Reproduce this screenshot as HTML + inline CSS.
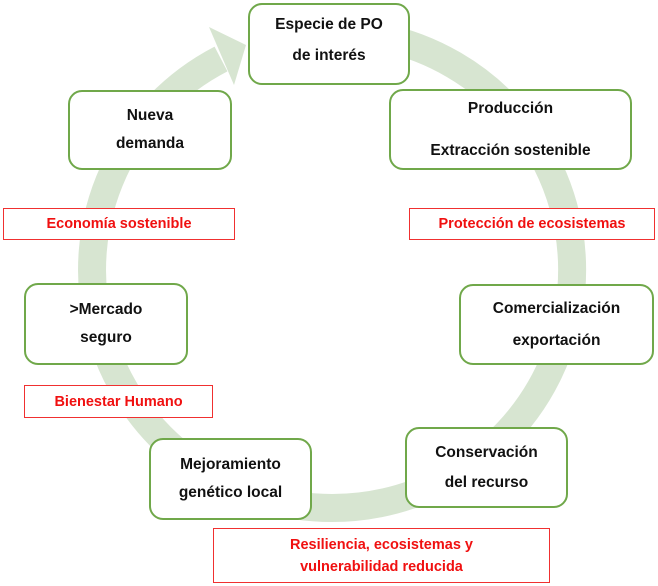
<!DOCTYPE html>
<html><head><meta charset="utf-8"><style>
body{margin:0;width:658px;height:586px;background:#fff;position:relative;overflow:hidden;font-family:"Liberation Sans",Arial,sans-serif;font-weight:bold;}
.n{position:absolute;box-sizing:border-box;border:2.5px solid #70a84a;border-radius:14px;background:#fff;display:flex;flex-direction:column;justify-content:center;align-items:center;text-align:center;font-size:15.5px;color:#111;line-height:28px;}
.r{position:absolute;box-sizing:border-box;border:1.3px solid #f03030;background:#fff;color:#f01010;display:flex;flex-direction:column;justify-content:center;align-items:center;text-align:center;font-size:14.5px;line-height:22px;}
svg{position:absolute;left:0;top:0}
</style></head><body>
<svg width="658" height="586">
<path d="M 373.7 35.6 A 240 238 0 0 1 332 508 A 240 238 0 0 1 221 59" fill="none" stroke="#d7e5d1" stroke-width="28"/>
<polygon points="209,27 246,45 234,85" fill="#d7e5d1"/>
</svg>
<div class="n" style="left:248px;top:3px;width:162px;height:82px;padding-bottom:8px;line-height:31px">Especie de PO<br>de interés</div>
<div class="n" style="left:68px;top:90px;width:164px;height:80px">Nueva<br>demanda</div>
<div class="n" style="left:389px;top:89px;width:243px;height:81px;line-height:42px">Producción<br>Extracción sostenible</div>
<div class="r" style="left:3px;top:208px;width:232px;height:32px">Economía sostenible</div>
<div class="r" style="left:409px;top:208px;width:246px;height:32px">Protección de ecosistemas</div>
<div class="n" style="left:24px;top:283px;width:164px;height:82px">&gt;Mercado<br>seguro</div>
<div class="n" style="left:459px;top:284px;width:195px;height:81px;line-height:32px">Comercialización<br>exportación</div>
<div class="r" style="left:24px;top:385px;width:189px;height:33px">Bienestar Humano</div>
<div class="n" style="left:405px;top:427px;width:163px;height:81px;line-height:30px">Conservación<br>del recurso</div>
<div class="n" style="left:149px;top:438px;width:163px;height:82px">Mejoramiento<br>genético local</div>
<div class="r" style="left:213px;top:528px;width:337px;height:55px">Resiliencia, ecosistemas y<br>vulnerabilidad reducida</div>
</body></html>
